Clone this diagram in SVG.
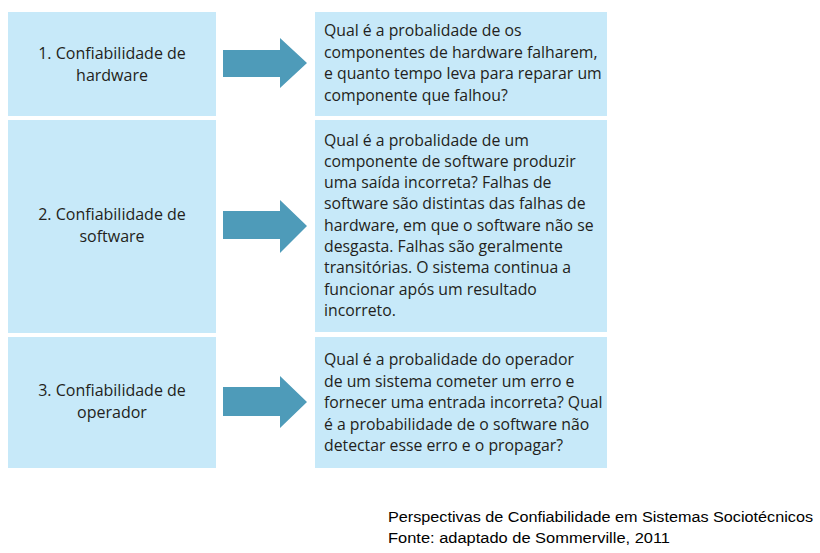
<svg xmlns="http://www.w3.org/2000/svg" width="820" height="553" viewBox="0 0 820 553">
<style>
.box{fill:#c7e9f9}
.arr{fill:#4e9bb9}
.t{font-family:"Open Sans","Noto Sans",sans-serif;font-size:15.8px;fill:#231f20}
.l{font-family:"Open Sans","Noto Sans",sans-serif;font-size:16px;fill:#231f20;text-anchor:middle}
.cap{font-family:"Liberation Sans",Arial,sans-serif;font-size:15.5px;fill:#000}
</style>
<rect width="820" height="553" fill="#fff"/>
<g id="node-hw">
<rect class="box" x="8" y="12" width="208" height="104"/>
<text class="l" x="112" y="59">1. Confiabilidade de</text>
<text class="l" x="112" y="81">hardware</text>
</g>
<g id="node-hw-desc">
<rect class="box" x="315" y="12" width="292" height="104"/>
<text class="t" x="324" y="36">Qual é a probalidade de os</text>
<text class="t" x="324" y="58">componentes de hardware falharem,</text>
<text class="t" x="324" y="79">e quanto tempo leva para reparar um</text>
<text class="t" x="324" y="101">componente que falhou?</text>
</g>
<g id="node-sw">
<rect class="box" x="8" y="120" width="208" height="213"/>
<text class="l" x="112" y="220">2. Confiabilidade de</text>
<text class="l" x="112" y="242">software</text>
</g>
<g id="node-sw-desc">
<rect class="box" x="315" y="120" width="292" height="212"/>
<text class="t" x="324" y="146">Qual é a probalidade de um</text>
<text class="t" x="324" y="167">componente de software produzir</text>
<text class="t" x="324" y="188">uma saída incorreta? Falhas de</text>
<text class="t" x="324" y="209">software são distintas das falhas de</text>
<text class="t" x="324" y="231">hardware, em que o software não se</text>
<text class="t" x="324" y="252">desgasta. Falhas são geralmente</text>
<text class="t" x="324" y="273">transitórias. O sistema continua a</text>
<text class="t" x="324" y="295">funcionar após um resultado</text>
<text class="t" x="324" y="316">incorreto.</text>
</g>
<g id="node-op">
<rect class="box" x="8" y="337" width="208" height="131"/>
<text class="l" x="112" y="396">3. Confiabilidade de</text>
<text class="l" x="112" y="418">operador</text>
</g>
<g id="node-op-desc">
<rect class="box" x="315" y="337" width="292" height="131"/>
<text class="t" x="324" y="365">Qual é a probalidade do operador</text>
<text class="t" x="324" y="387">de um sistema cometer um erro e</text>
<text class="t" x="324" y="408">fornecer uma entrada incorreta? Qual</text>
<text class="t" x="324" y="430">é a probabilidade de o software não</text>
<text class="t" x="324" y="451">detectar esse erro e o propagar?</text>
</g>
<g id="connectors">
<polygon class="arr" points="223,50 280,50 280,38 307,63 280,88 280,77 223,77"/>
<polygon class="arr" points="223,211 280,211 280,200 307,226 280,253 280,239 223,239"/>
<polygon class="arr" points="223,387 280,387 280,376 307,402 280,428 280,416 223,416"/>
</g>
<g id="caption">
<text class="cap" x="388" y="522" textLength="425" lengthAdjust="spacingAndGlyphs">Perspectivas de Confiabilidade em Sistemas Sociotécnicos</text>
<text class="cap" x="388" y="543" textLength="282" lengthAdjust="spacingAndGlyphs">Fonte: adaptado de Sommerville, 2011</text>
</g>
</svg>
